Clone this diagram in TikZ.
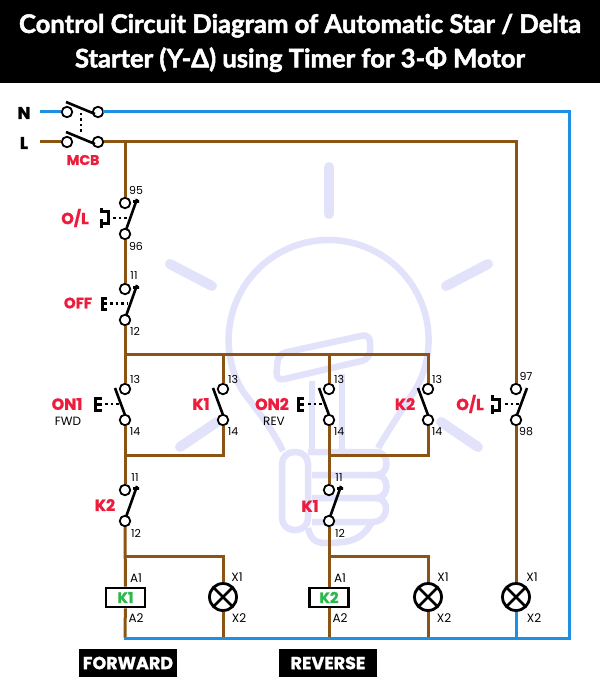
\documentclass[tikz,border=0pt]{standalone}
\usepackage{fontspec}
\setmainfont{Poppins}[BoldFeatures={FakeBold=1.2}]
\newfontfamily\titlefont{Lato}[Ligatures=NoCommon, BoldFeatures={FakeBold=2}]
\definecolor{wirebrown}{HTML}{8B5414}
\definecolor{wireblue}{HTML}{1E90E4}
\definecolor{labelred}{HTML}{EC1C3C}
\definecolor{coilgreen}{HTML}{2DB84B}
\definecolor{bulbtint}{HTML}{E2E2FB}
\tikzset{
  term/.style={circle, draw=black, line width=1.8pt, fill=white, inner sep=0pt, minimum size=10.5pt},
  brownwire/.style={draw=wirebrown, line width=3pt},
  bluewire/.style={draw=wireblue, line width=3pt},
  blade/.style={draw=black, line width=2.6pt},
  link/.style={draw=black, line width=2.6pt, dash pattern=on 2.5pt off 3pt},
  symb/.style={draw=black, line width=3pt},
  redlab/.style={text=labelred, font=\fontsize{16}{16}\selectfont\bfseries, inner sep=0pt},
  numlab/.style={text=black, font=\fontsize{11}{11}\selectfont, inner sep=0pt},
  pinlab/.style={text=black, font=\fontsize{12}{12}\selectfont, inner sep=0pt},
  tag/.style={fill=black, text=white, font=\fontsize{17.5}{17.5}\selectfont\bfseries, inner sep=0pt, minimum width=98pt, minimum height=28pt},
  coil/.style={draw=black, line width=2.8pt, fill=white, minimum width=39pt, minimum height=19pt, inner sep=0pt,
    text=coilgreen, font=\fontsize{15}{15}\selectfont\bfseries},
  lamp/.style={circle, draw=black, line width=2.8pt, fill=white, minimum size=27pt, inner sep=0pt,
    path picture={\draw[black, line width=2.6pt]
      (path picture bounding box.center) +(45:14pt) -- +(225:14pt)
      (path picture bounding box.center) +(135:14pt) -- +(-45:14pt);}},
  bulbline/.style={draw=bulbtint, line width=6.5pt},
  bulbray/.style={draw=bulbtint, line width=10pt, line cap=round}
}
\begin{document}
\begin{tikzpicture}
  \useasboundingbox (0pt,0pt) rectangle (600pt,-700pt);

  % faint bulb behind the circuit
  \draw[bulbray] (329pt,-167pt) -- (329pt,-214pt);
  \draw[bulbray] (170pt,-264pt) -- (212pt,-286pt);
  \draw[bulbray] (488pt,-264pt) -- (446pt,-286pt);
  \draw[bulbray] (180pt,-447pt) -- (217pt,-422pt);
  \draw[bulbray] (478pt,-447pt) -- (441pt,-422pt);
  \draw[bulbline] (283pt,-451pt) .. controls (270pt,-425pt) and (255pt,-408pt) .. (242pt,-390pt)
    arc[start angle=210, end angle=-30, radius=100pt]
    .. controls (403pt,-408pt) and (390pt,-428pt) .. (378pt,-448pt);
  \draw[bulbline, rounded corners=8pt] (278pt,-354pt) -- (370pt,-334pt)
    -- (370pt,-359pt) -- (276pt,-381pt) -- cycle;
  \draw[bulbline] (312pt,-381pt) -- (312pt,-452pt);
  \draw[bulbline] (342pt,-374pt) -- (342pt,-452pt);
  \draw[bulbline, rounded corners=12pt] (282pt,-452pt) rectangle (308pt,-530pt);
  \draw[bulbline] (308pt,-452pt) -- (376pt,-452pt)
    .. controls (390pt,-452pt) and (390pt,-475pt) .. (376pt,-475pt) -- (312pt,-475pt);
  \draw[bulbline] (376pt,-475pt)
    .. controls (390pt,-475pt) and (390pt,-498pt) .. (376pt,-498pt) -- (312pt,-498pt);
  \draw[bulbline] (376pt,-498pt)
    .. controls (390pt,-498pt) and (390pt,-522pt) .. (372pt,-522pt) -- (312pt,-522pt);
  \draw[bulbline] (372pt,-522pt) .. controls (362pt,-540pt) and (350pt,-543pt) .. (325pt,-543pt)
    .. controls (315pt,-543pt) and (310pt,-538pt) .. (308pt,-528pt);

  % title
  \fill[black] (0pt,0pt) rectangle (600pt,-83pt);
  \node[text=white, align=center, inner sep=0pt, font=\titlefont\fontsize{25.6}{34.5}\selectfont\bfseries] (title) at (300pt,-43pt)
    {Control Circuit Diagram of Automatic Star / Delta\\
     Starter (Y-\char"0394) using Timer for 3-\char"03A6{} Motor};

  % terminals
  \node[term] (n1) at (67pt,-112pt) {};
  \node[term] (n2) at (98pt,-112pt) {};
  \node[term] (l1) at (67pt,-142pt) {};
  \node[term] (l2) at (98pt,-142pt) {};
  \node[term] (t95) at (125pt,-203pt) {};
  \node[term] (t96) at (125pt,-234pt) {};
  \node[term] (off11) at (125pt,-289pt) {};
  \node[term] (off12) at (125pt,-320pt) {};
  \node[term] (on13) at (125pt,-389pt) {};
  \node[term] (on14) at (125pt,-420pt) {};
  \node[term] (ka13) at (223pt,-389pt) {};
  \node[term] (ka14) at (223pt,-420pt) {};
  \node[term] (ontwo13) at (329pt,-389pt) {};
  \node[term] (ontwo14) at (329pt,-420pt) {};
  \node[term] (kb13) at (428pt,-389pt) {};
  \node[term] (kb14) at (428pt,-420pt) {};
  \node[term] (t97) at (516pt,-389pt) {};
  \node[term] (t98) at (516pt,-420pt) {};
  \node[term] (kb11) at (125pt,-490pt) {};
  \node[term] (kb12) at (125pt,-521pt) {};
  \node[term] (ka11) at (329pt,-490pt) {};
  \node[term] (ka12) at (329pt,-521pt) {};

  % coils and lamps
  \node[coil] (kone) at (125.5pt,-597.5pt) {K1};
  \node[coil] (ktwo) at (329pt,-597.5pt) {K2};
  \node[lamp] (lampa) at (223pt,-597pt) {};
  \node[lamp] (lampb) at (428pt,-597pt) {};
  \node[lamp] (lampc) at (516pt,-597pt) {};

  \coordinate (nin) at (40pt,-112pt);
  \coordinate (lin) at (40pt,-142pt);
  \coordinate (ltop) at (125pt,-142pt);
  \coordinate (rail) at (125pt,-354pt);
  \coordinate (railb) at (329pt,-354pt);
  \coordinate (lowa) at (125pt,-455pt);
  \coordinate (lowb) at (329pt,-455pt);
  \coordinate (feeda) at (125pt,-556pt);
  \coordinate (feedb) at (329pt,-556pt);
  \coordinate (neutral) at (125pt,-638pt);
  \coordinate (neutralr) at (569pt,-638pt);

  % phase wiring
  \draw[brownwire] (lin) -- (l1);
  \draw[brownwire] (l2) -- (ltop) -- (t95);
  \draw[brownwire] (ltop) -| (t97);
  \draw[brownwire] (t96) -- (off11);
  \draw[brownwire] (off12) -- (on13);
  \draw[brownwire] (rail) -| (ka13);
  \draw[brownwire] (rail) -| (kb13);
  \draw[brownwire] (railb) -- (ontwo13);
  \draw[brownwire] (on14) -- (kb11);
  \draw[brownwire] (ontwo14) -- (ka11);
  \draw[brownwire] (ka14) |- (lowa);
  \draw[brownwire] (kb14) |- (lowb);
  \draw[brownwire] (kb12) -- (kone);
  \draw[brownwire] (ka12) -- (ktwo);
  \draw[brownwire] (feeda) -| (lampa);
  \draw[brownwire] (feedb) -| (lampb);
  \draw[brownwire] (t98) -- (lampc);
  \draw[brownwire] (kone) -- (neutral);
  \draw[brownwire] (ktwo) -- (ktwo |- neutral);
  \draw[brownwire] (lampa) -- (lampa |- neutral);
  \draw[brownwire] (lampb) -- (lampb |- neutral);

  % neutral wiring
  \draw[bluewire] (nin) -- (n1);
  \draw[bluewire, line cap=rect] (n2) -| (neutralr) -- (neutral);
  \draw[bluewire] (lampc) -- (lampc |- neutral);

  % contact blades
  \draw[blade] (66pt,-102pt) -- (95pt,-114pt);
  \draw[blade] (66pt,-132pt) -- (95pt,-144pt);
  \draw[link] (81pt,-113pt) -- (81pt,-132pt);
  \draw[blade] (137pt,-199pt) -- (126pt,-230pt) (133pt,-201.5pt) -- (139pt,-201.5pt);
  \draw[blade] (137pt,-285pt) -- (126pt,-316pt) (133pt,-287.5pt) -- (139pt,-287.5pt);
  \draw[blade] (115pt,-388pt) -- (125pt,-415pt);
  \draw[blade] (213pt,-388pt) -- (223pt,-415pt);
  \draw[blade] (319pt,-388pt) -- (329pt,-415pt);
  \draw[blade] (418pt,-388pt) -- (428pt,-415pt);
  \draw[blade] (527pt,-388pt) -- (517pt,-415pt);
  \draw[blade] (137pt,-486pt) -- (126pt,-517pt) (133pt,-488.5pt) -- (139pt,-488.5pt);
  \draw[blade] (341pt,-486pt) -- (330pt,-517pt) (337pt,-488.5pt) -- (343pt,-488.5pt);

  % overload and push button operators
  \draw[symb] (101pt,-208pt) -- (101pt,-213pt) (100pt,-212pt) -- (108pt,-212pt) -- (108pt,-224pt)
    -- (100pt,-224pt) (101pt,-219pt) -- (101pt,-228pt);
  \draw[link] (113pt,-218pt) -- (128pt,-218pt);
  \draw[symb] (492pt,-395pt) -- (492pt,-400pt) (491pt,-399pt) -- (499pt,-399pt) -- (499pt,-410pt)
    -- (491pt,-410pt) (492pt,-405pt) -- (492pt,-414pt);
  \draw[link] (505pt,-404pt) -- (519pt,-404pt);
  \draw[symb] (107pt,-298pt) -| (102pt,-309pt) -- (107pt,-309pt) (102pt,-303.5pt) -- (107pt,-303.5pt);
  \draw[link] (110pt,-303.5pt) -- (128pt,-303.5pt);
  \draw[symb] (102pt,-398.5pt) -| (95pt,-410.5pt) -- (102pt,-410.5pt) (95pt,-404pt) -- (102pt,-404pt);
  \draw[link] (105pt,-404pt) -- (119pt,-404pt);
  \draw[symb] (304pt,-398.5pt) -| (298pt,-410.5pt) -- (304pt,-410.5pt) (298pt,-404pt) -- (304pt,-404pt);
  \draw[link] (308pt,-404pt) -- (323pt,-404pt);

  % labels
  \node[font=\fontsize{17}{17}\selectfont\bfseries, inner sep=0pt] (labn) at (24pt,-113pt) {N};
  \node[font=\fontsize{17}{17}\selectfont\bfseries, inner sep=0pt] (labl) at (24pt,-143pt) {L};
  \node[redlab, font=\fontsize{14}{14}\selectfont\bfseries] (labmcb) at (83pt,-160pt) {MCB};
  \node[redlab] (labola) at (75pt,-218pt) {O/L};
  \node[redlab, font=\fontsize{15}{15}\selectfont\bfseries] (laboff) at (78pt,-303pt) {OFF};
  \node[redlab] (labon) at (67pt,-404pt) {ON1};
  \node[pinlab] (labfwd) at (68pt,-421pt) {FWD};
  \node[redlab] (labka) at (201pt,-404pt) {K1};
  \node[redlab] (labontwo) at (272pt,-404pt) {ON2};
  \node[pinlab] (labrev) at (274pt,-421pt) {REV};
  \node[redlab] (labkb) at (405pt,-404pt) {K2};
  \node[redlab] (labolb) at (470pt,-404pt) {O/L};
  \node[redlab] (labkc) at (105pt,-505pt) {K2};
  \node[redlab] (labkd) at (310pt,-506pt) {K1};

  \node[numlab] (n95) at (136pt,-190pt) {95};
  \node[numlab] (n96) at (136pt,-246pt) {96};
  \node[numlab] (no11) at (134pt,-276pt) {11};
  \node[numlab] (no12) at (135pt,-331pt) {12};
  \node[numlab] (no13) at (135pt,-379pt) {13};
  \node[numlab] (no14) at (135pt,-432pt) {14};
  \node[numlab] (nk13) at (233pt,-379pt) {13};
  \node[numlab] (nk14) at (233pt,-432pt) {14};
  \node[numlab] (nt13) at (339pt,-379pt) {13};
  \node[numlab] (nt14) at (339pt,-432pt) {14};
  \node[numlab] (nr13) at (437pt,-379pt) {13};
  \node[numlab] (nr14) at (437pt,-432pt) {14};
  \node[numlab] (n97) at (526pt,-376pt) {97};
  \node[numlab] (n98) at (526pt,-432pt) {98};
  \node[numlab] (nb11) at (135pt,-478pt) {11};
  \node[numlab] (nb12) at (136pt,-533pt) {12};
  \node[numlab] (nc11) at (339pt,-478pt) {11};
  \node[numlab] (nc12) at (340pt,-533pt) {12};
  \node[pinlab] (aa1) at (136pt,-578pt) {A1};
  \node[pinlab] (aa2) at (136pt,-618pt) {A2};
  \node[pinlab] (ab1) at (340pt,-578pt) {A1};
  \node[pinlab] (ab2) at (340pt,-618pt) {A2};
  \node[pinlab] (xa1) at (237pt,-577pt) {X1};
  \node[pinlab] (xa2) at (239pt,-618pt) {X2};
  \node[pinlab] (xb1) at (443pt,-577pt) {X1};
  \node[pinlab] (xb2) at (444pt,-618pt) {X2};
  \node[pinlab] (xc1) at (532pt,-577pt) {X1};
  \node[pinlab] (xc2) at (534pt,-618pt) {X2};

  \node[tag] (forward) at (128pt,-663pt) {FORWARD};
  \node[tag] (reverse) at (328pt,-663pt) {REVERSE};
\end{tikzpicture}
\end{document}
